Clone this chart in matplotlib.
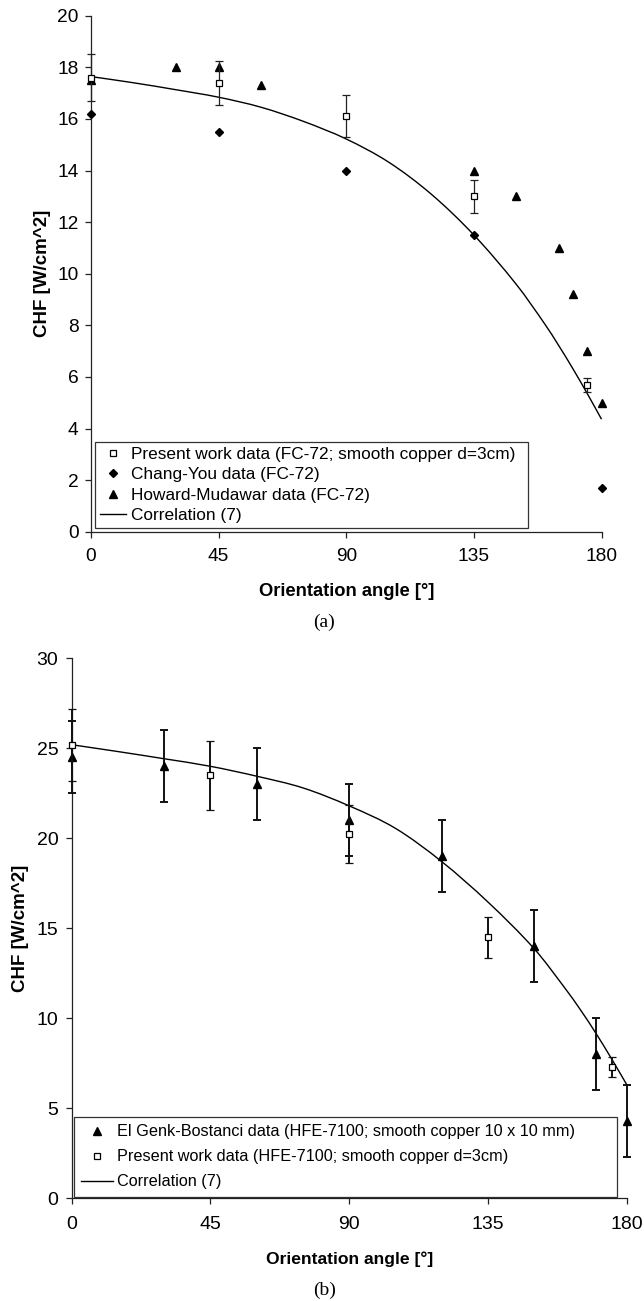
import matplotlib
matplotlib.use("Agg")
import matplotlib.pyplot as plt
import numpy as np
from matplotlib.lines import Line2D
from matplotlib.path import Path
from matplotlib.patches import PathPatch

plt.rcParams["font.family"] = ["Liberation Sans", "DejaVu Sans"]

# (a) FC-72
a_present_x = [0, 45, 90, 135, 175]
a_present_y = [17.6, 17.4, 16.1, 13.0, 5.7]
a_present_err = [0.9, 0.86, 0.82, 0.64, 0.27]
a_chang_x = [0, 45, 90, 135, 180]
a_chang_y = [16.2, 15.5, 14.0, 11.5, 1.7]
a_howard_x = [0, 30, 45, 60, 135, 150, 165, 170, 175, 180]
a_howard_y = [17.5, 18.0, 18.0, 17.3, 14.0, 13.0, 11.0, 9.2, 7.0, 5.0]
a_corr_x = [0, 15, 30, 45, 60, 75, 90, 105, 120, 135, 150, 160, 165, 170, 175, 180]
a_corr_y = [17.64, 17.40, 17.13, 16.84, 16.45, 15.90, 15.22, 14.32, 13.08, 11.5,
            9.58, 8.05, 7.2, 6.3, 5.35, 4.36]

# (b) HFE-7100
b_genk_x = [0, 30, 60, 90, 120, 150, 170, 180]
b_genk_y = [24.5, 24.0, 23.0, 21.0, 19.0, 14.0, 8.0, 4.3]
b_genk_err = [2.0, 2.0, 2.0, 2.0, 2.0, 2.0, 2.0, 2.0]
b_present_x = [0, 45, 90, 135, 175]
b_present_y = [25.2, 23.5, 20.25, 14.5, 7.3]
b_present_err = [2.0, 1.9, 1.6, 1.15, 0.57]
b_corr_x = [0, 15, 30, 45, 60, 75, 90, 105, 120, 135, 150, 160, 165, 170, 175, 180]
b_corr_y = [25.2, 24.82, 24.42, 24.0, 23.45, 22.8, 21.8, 20.55, 18.7, 16.45,
            13.85, 11.65, 10.45, 9.15, 7.75, 6.29]

x_ticks = [0, 45, 90, 135, 180]

fig = plt.figure(figsize=(6.44, 13.01), dpi=100)
ax_a = fig.add_axes([91/644, 1 - 531.7/1301, 510.5/644, 516/1301])
ax_b = fig.add_axes([71.5/644, 1 - 1198.3/1301, 555.5/644, 540/1301])


def smooth_line(ax, xs, ys, lw=1.0):
    # smoothed line through the read points, drawn as cubic Bezier segments
    x = np.asarray(xs, float)
    y = np.asarray(ys, float)
    n = len(x)
    m = np.empty(n)
    m[0] = (y[1] - y[0]) / (x[1] - x[0])
    m[-1] = (y[-1] - y[-2]) / (x[-1] - x[-2])
    m[1:-1] = (y[2:] - y[:-2]) / (x[2:] - x[:-2])
    verts = [(x[0], y[0])]
    codes = [Path.MOVETO]
    for i in range(n - 1):
        h = (x[i + 1] - x[i]) / 3
        verts += [(x[i] + h, y[i] + m[i] * h),
                  (x[i + 1] - h, y[i + 1] - m[i + 1] * h),
                  (x[i + 1], y[i + 1])]
        codes += [Path.CURVE4] * 3
    ax.add_patch(PathPatch(Path(verts, codes), fill=False, ec="black", lw=lw,
                           zorder=2, clip_on=False))


def noclip(cont):
    for part in cont.lines:
        if isinstance(part, (list, tuple)):
            for q in part:
                q.set_clip_on(False)
        elif part is not None:
            part.set_clip_on(False)


def style_axes(ax, ymax, ystep, tick_fs, tlen):
    ax.set_xlim(0, 180)
    ax.set_ylim(0, ymax)
    ax.set_xticks(x_ticks)
    ax.set_yticks(range(0, ymax + 1, ystep))
    for s in ("top", "right"):
        ax.spines[s].set_visible(False)
    for s in ("left", "bottom"):
        ax.spines[s].set_linewidth(0.9)
        ax.spines[s].set_color("#222222")
    ax.tick_params(axis="both", direction="out", length=tlen, width=0.9,
                   color="#222222", labelsize=tick_fs)
    ax.tick_params(axis="x", pad=8)
    ax.tick_params(axis="y", pad=5)


# ---- panel (a)
ax = ax_a
smooth_line(ax, a_corr_x, a_corr_y)
ax.plot(a_chang_x, a_chang_y, "D", ms=4.5, color="black", zorder=3, clip_on=False)
ax.plot(a_howard_x, a_howard_y, "^", ms=5.4, color="black", zorder=3, clip_on=False)
c = ax.errorbar(a_present_x, a_present_y, yerr=a_present_err, fmt="s", ms=4.8,
                mfc="white", mec="black", mew=0.9, ecolor="#222222",
                elinewidth=0.9, capsize=3, capthick=0.9, zorder=4)
noclip(c)
style_axes(ax, 20, 2, 13.8, 4)

handles_a = [
    Line2D([], [], ls="none", marker="s", ms=4.8, mfc="white", mec="black", mew=0.9),
    Line2D([], [], ls="none", marker="D", ms=4.5, color="black"),
    Line2D([], [], ls="none", marker="^", ms=5.4, color="black"),
    Line2D([], [], color="black", lw=1.0),
]
labels_a = ["Present work data (FC-72; smooth copper d=3cm)",
            "Chang-You data (FC-72)",
            "Howard-Mudawar data (FC-72)",
            "Correlation (7)"]
leg = ax.legend(handles_a, labels_a, loc="lower left",
                bbox_to_anchor=(0.008, 0.007, 0.848, 0.173), mode="expand",
                borderaxespad=0, fontsize=12.4, frameon=True, fancybox=False,
                labelspacing=0.3, borderpad=0.3, handlelength=1.5,
                handletextpad=0.3, numpoints=1)
leg.get_frame().set_edgecolor("black")
leg.get_frame().set_linewidth(0.9)

ax.text(-0.095, 0.5, "CHF [W/cm^2]", transform=ax.transAxes, rotation=90,
        ha="center", va="center", fontsize=13.5, fontweight="bold")
ax.text(0.5, -0.115, "Orientation angle [°]", transform=ax.transAxes,
        ha="center", va="center", fontsize=13.2, fontweight="bold")
fig.text(324/644, 1 - 622/1301, "(a)", ha="center", va="center",
         fontsize=14, family="Liberation Serif")

# ---- panel (b)
ax = ax_b
smooth_line(ax, b_corr_x, b_corr_y)
c = ax.errorbar(b_genk_x, b_genk_y, yerr=b_genk_err, fmt="^", ms=5.6,
                color="black", ecolor="#111111", elinewidth=1.4,
                capsize=3, capthick=1.4, zorder=3)
noclip(c)
c = ax.errorbar(b_present_x, b_present_y, yerr=b_present_err, fmt="s", ms=4.8,
                mfc="white", mec="black", mew=0.9, ecolor="#111111",
                elinewidth=1.4, capsize=3, capthick=1.4, zorder=4)
noclip(c)
style_axes(ax, 30, 5, 14, 4.5)

handles_b = [
    Line2D([], [], ls="none", marker="^", ms=5.6, color="black"),
    Line2D([], [], ls="none", marker="s", ms=4.8, mfc="white", mec="black", mew=0.9),
    Line2D([], [], color="black", lw=1.0),
]
labels_b = ["El Genk-Bostanci data (HFE-7100; smooth copper 10 x 10 mm)",
            "Present work data (HFE-7100; smooth copper d=3cm)",
            "Correlation (7)"]
leg = ax.legend(handles_b, labels_b, loc="lower left",
                bbox_to_anchor=(0.0045, 0.003, 0.9775, 0.151), mode="expand",
                borderaxespad=0, fontsize=11.7, frameon=True, fancybox=False,
                labelspacing=0.62, borderpad=0.45, handlelength=1.95,
                handletextpad=0.25, numpoints=1)
leg.get_frame().set_edgecolor("black")
leg.get_frame().set_linewidth(0.9)

ax.text(-0.0925, 0.5, "CHF [W/cm^2]", transform=ax.transAxes, rotation=90,
        ha="center", va="center", fontsize=13.5, fontweight="bold")
ax.text(0.5, -0.1124, "Orientation angle [°]", transform=ax.transAxes,
        ha="center", va="center", fontsize=12.6, fontweight="bold")
fig.text(325/644, 1 - 1290/1301, "(b)", ha="center", va="center",
         fontsize=14, family="Liberation Serif")

fig.savefig("out.png", dpi=100)
